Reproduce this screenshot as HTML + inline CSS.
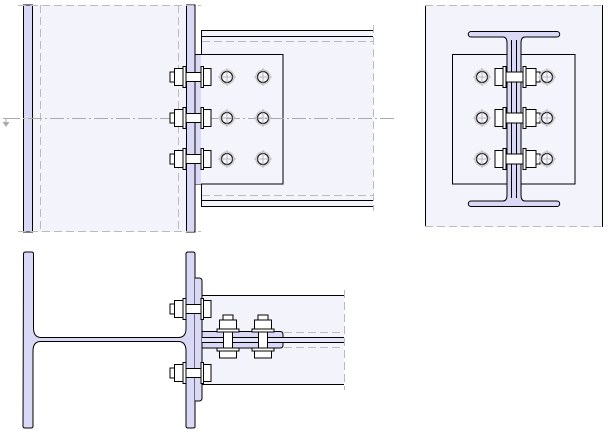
<!DOCTYPE html>
<html><head><style>html,body{margin:0;padding:0;background:#fff}svg{display:block}</style></head><body>
<svg width="612" height="434" viewBox="0 0 612 434" xmlns="http://www.w3.org/2000/svg">
<defs>
<g id="hb">
 <rect x="170" y="-5" width="4.5" height="10" fill="#fff" stroke="#000"/>
 <rect x="174.5" y="-8.5" width="8.5" height="17" fill="#fff" stroke="#000"/>
 <rect x="183" y="-10.5" width="3" height="21" fill="#fff" stroke="#000"/>
 <rect x="186" y="-4.5" width="15" height="9" fill="#fff" stroke="#000"/>
 <rect x="201" y="-10.5" width="2.5" height="21" fill="#fff" stroke="#000"/>
 <rect x="203.5" y="-8.5" width="7.5" height="17" fill="#fff" stroke="#000"/>
</g>
<g id="hole" fill="none">
 <circle r="7" stroke="#ccc" stroke-width="1.5"/>
 <circle r="5.5" stroke="#000"/>
 <path d="M-9 0H9M0 -9V9" stroke="#aaa" stroke-width="0.8"/>
</g>
<g id="rb">
 <rect x="495" y="-8.5" width="8" height="17" fill="#fff" stroke="#000"/>
 <rect x="503" y="-10.5" width="3" height="21" fill="#fff" stroke="#000"/>
 <rect x="506" y="-5" width="17" height="10" fill="#fff" stroke="#000"/>
 <rect x="523" y="-10.5" width="3" height="21" fill="#fff" stroke="#000"/>
 <rect x="526" y="-8.5" width="10" height="17" fill="#fff" stroke="#000"/>
 <rect x="536" y="-5" width="4" height="10" fill="#fff" stroke="#000"/>
</g>
<g id="vb">
 <rect x="-5" y="315" width="10" height="5" fill="#fff" stroke="#000"/>
 <rect x="-8.5" y="320" width="17" height="9" fill="#fff" stroke="#000"/>
 <rect x="-11" y="329" width="22" height="3" fill="#fff" stroke="#000"/>
 <rect x="-4.5" y="332" width="9" height="16" fill="#fff" stroke="#000"/>
 <rect x="-11" y="348" width="22" height="3" fill="#fff" stroke="#000"/>
 <rect x="-8.5" y="351" width="17" height="7" fill="#fff" stroke="#000"/>
</g>
</defs>
<g stroke-width="1">
<!-- TOP LEFT VIEW -->
<rect x="33" y="5" width="153" height="227" fill="#f3f3fc"/>
<rect x="201" y="30" width="172" height="177" fill="#f3f3fc"/>
<rect x="23.5" y="5" width="9" height="227" fill="#d9d9f5" stroke="#000"/>
<rect x="186.5" y="5" width="8.5" height="227" fill="#d9d9f5" stroke="#000"/>
<path d="M18 5.5H201M18 231.5H201M40.5 5V232M178.5 5V232" stroke="#bbb" stroke-dasharray="8,4" fill="none"/>
<path d="M201.5 30.5H373M201.5 36.5H373M201.5 200.5H373M201.5 206.5H373M201.5 30V207" stroke="#000" fill="none"/>
<path d="M202 41.5H373M202 195.5H373M373.5 25V211" stroke="#bbb" stroke-dasharray="8,4" fill="none"/>
<rect x="195" y="54.5" width="88" height="129.5" fill="#f4f4fc" stroke="#000"/>
<rect x="195" y="55" width="6" height="129" fill="#d9d9f5"/>
<path d="M195 54.5V184" stroke="#000"/>
<path d="M6 118.5H397" stroke="#aaa" stroke-dasharray="14,3,2,3" fill="none"/>
<path d="M3 118.5H9M6 118.5V124M3 122L6 126L9 122" stroke="#aaa" fill="#aaa"/>
<use href="#hb" y="77"/><use href="#hb" y="118"/><use href="#hb" y="159"/>
<use href="#hole" x="227" y="77"/><use href="#hole" x="263" y="77"/>
<use href="#hole" x="227" y="118"/><use href="#hole" x="263" y="118"/>
<use href="#hole" x="227" y="159"/><use href="#hole" x="263" y="159"/>
<!-- RIGHT VIEW -->
<rect x="425" y="5" width="178" height="222" fill="#f3f3fc"/>
<path d="M425.5 5V227M602.5 5V227" stroke="#000"/>
<path d="M425 5.5H603M425 226.5H603" stroke="#bbb" stroke-dasharray="8,4"/>
<rect x="452.5" y="54.5" width="122.5" height="129.5" fill="#f4f4fc" stroke="#000"/>
<path d="M471 31.5H557a2.5 2.5 0 0 1 0 5.5H525q-4 0-4 6V195q0 6 4 6H557a2.5 2.5 0 0 1 0 5.5H471a2.5 2.5 0 0 1 0-5.5H503q4 0 4-6V43q0-6-4-6H471a2.5 2.5 0 0 1 0-5.5Z" fill="#d9d9f5" stroke="#000"/>
<path d="M511.5 40V198M516.5 40V198" stroke="#000"/>
<use href="#rb" y="77"/><use href="#rb" y="118"/><use href="#rb" y="159"/>
<use href="#hole" x="482" y="77"/><use href="#hole" x="547" y="77"/>
<use href="#hole" x="482" y="118"/><use href="#hole" x="547" y="118"/>
<use href="#hole" x="482" y="159"/><use href="#hole" x="547" y="159"/>
<!-- BOTTOM VIEW -->
<rect x="202" y="295" width="142" height="89" fill="#f3f3fc"/>
<path d="M202 295.5H344M202 384.5H344" stroke="#000"/>
<path d="M23.5 254q0-2 2-2h6q2 0 2 2V328q0 9 7 9.5H179q7-0.5 7-9V254q0-2 2-2h5q2 0 2 2V427q0 1-2 1h-5q-2 0-2-2V351q0-9-7-9.5H40q-7 0.5-7 9.5V426q0 2-2 2h-6q-2 0-2-2Z" fill="#d9d9f5" stroke="#000"/>
<path d="M195 278h4q3 0 3 3V398q0 3-3 3h-4" fill="#d9d9f5" stroke="#000"/>
<path d="M202 331.5H280q3 0 3 3V345q0 3-3 3H202Z" fill="#d9d9f5" stroke="#000"/>
<rect x="202" y="338" width="142" height="4" fill="#e4e4f8"/>
<path d="M202 337.5H344M202 342.5H344" stroke="#000"/>
<path d="M284 332.5H344M284 347.5H344M344.5 290V390" stroke="#bbb" stroke-dasharray="8,4" fill="none"/>
<use href="#hb" y="309"/><use href="#hb" y="373"/>
<use href="#vb" x="228"/><use href="#vb" x="263"/>
</g>
</svg>
</body></html>
